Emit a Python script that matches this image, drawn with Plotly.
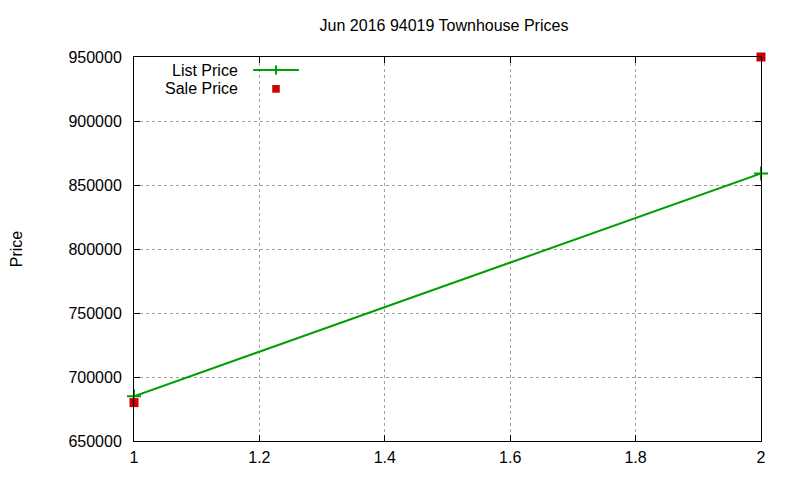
import plotly.graph_objects as go

# data
sale_no = [1, 2]
list_price = [685000, 859000]
sale_price = [680000, 950000]

title = "Jun 2016 94019 Townhouse Prices"
legend_names = ["List Price", "Sale Price"]
font_family = "Liberation Sans, Arial, sans-serif"
green = "#00a000"
red = "#cc0000"

fig = go.Figure()

fig.add_trace(go.Scatter(
    x=sale_no, y=list_price, name=legend_names[0],
    mode="lines+markers",
    line=dict(color=green, width=2),
    marker=dict(symbol="cross-thin", size=10, line=dict(color=green, width=2)),
    cliponaxis=False,
))
fig.add_trace(go.Scatter(
    x=sale_no, y=sale_price, name=legend_names[1],
    mode="markers",
    marker=dict(symbol="square", size=9, color=red),
    cliponaxis=False,
))

axis_common = dict(
    showline=True, linecolor="black", linewidth=1, mirror="allticks",
    ticks="inside", ticklen=6, tickcolor="black",
    showgrid=True, gridcolor="#a0a0a0", griddash="dot", gridwidth=1,
    zeroline=False, tickfont=dict(size=16, color="black"), automargin=False,
)

fig.update_xaxes(range=[1, 2], dtick=0.2, ticklabelstandoff=2, **axis_common)
fig.update_yaxes(range=[650000, 950000], dtick=50000, tickformat="d",
                 ticklabelstandoff=8,
                 title=dict(text="Price", standoff=58, font=dict(size=16)),
                 **axis_common)

# gnuplot style key: text on the left, sample on the right, white box behind
fig.add_shape(type="rect", xref="paper", yref="paper", x0=0.004, x1=0.28,
              y0=0.893, y1=0.98, fillcolor="white", line_width=0, layer="between")
key_y = [0.966, 0.917]
for name, ky in zip(legend_names, key_y):
    fig.add_annotation(text=name, xref="paper", yref="paper", x=0.169, y=ky,
                       xanchor="right", yanchor="middle", showarrow=False,
                       font=dict(size=16, color="black"))
fig.add_shape(type="line", xref="paper", yref="paper", x0=0.19, x1=0.263,
              y0=key_y[0], y1=key_y[0], line=dict(color=green, width=2))
fig.add_shape(type="line", xref="paper", yref="paper", x0=0.2265, x1=0.2265,
              y0=key_y[0] - 0.012, y1=key_y[0] + 0.012, line=dict(color=green, width=2))
fig.add_shape(type="rect", xref="paper", yref="paper", x0=0.2265 - 0.006, x1=0.2265 + 0.006,
              y0=key_y[1] - 0.01, y1=key_y[1] + 0.01, fillcolor=red, line_width=0)

fig.update_layout(
    width=800, height=480,
    margin=dict(l=126, r=47, t=49, b=47),
    paper_bgcolor="white", plot_bgcolor="white",
    font=dict(family=font_family, size=16, color="black"),
    title=dict(text=title, x=436 / 800, xanchor="center", y=1 - 17 / 480,
               yanchor="middle", font=dict(size=16)),
    showlegend=False,
)

fig.write_html("out.html")
